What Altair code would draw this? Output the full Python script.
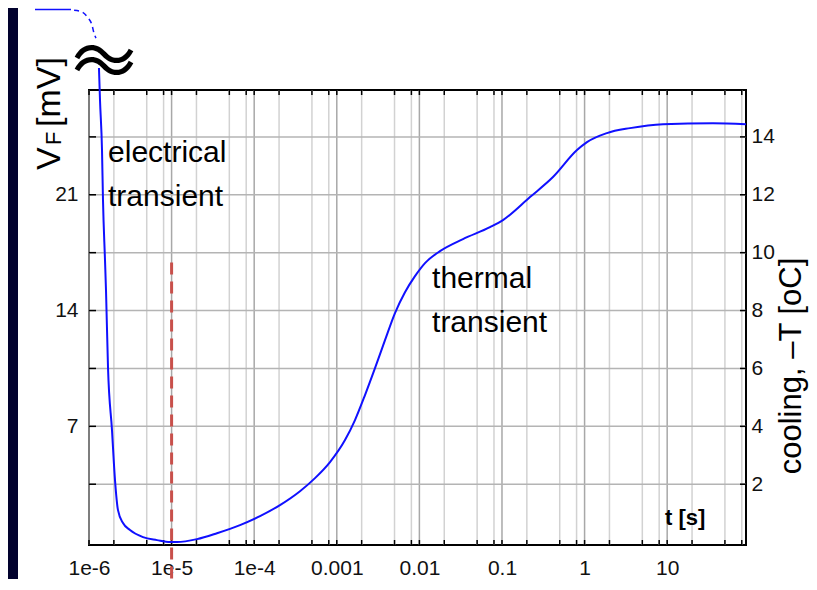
import math
import altair as alt
import pandas as pd

W, H = 657, 455
FONT = "Liberation Sans"

# ---- measured transient curve: time [s] and forward voltage [mV]
t_s = [1.32e-6, 1.359e-6, 1.437e-6, 1.477e-6, 1.562e-6, 1.606e-6, 1.698e-6, 1.898e-6,
       2.064e-6, 2.244e-6, 2.58e-6, 3.136e-6, 4.506e-6, 6.657e-6, 9.563e-6, 1.163e-5,
       2.03e-5, 3.545e-5, 6.732e-5, 1.176e-4, 2.053e-4, 3.585e-4, 5.447e-4, 8.275e-4,
       1.257e-3, 1.661e-3, 2.195e-3, 2.901e-3, 3.834e-3, 5.064e-3, 6.693e-3, 8.845e-3,
       1.169e-2, 1.776e-2, 3.372e-2, 7.157e-2, 0.1028, 0.2183, 0.4143, 0.8091, 1.069,
       1.867, 3.545, 8.895, 35.84, 89.96]
vf_mv = [28.66, 26.72, 23.70, 20.68, 17.05, 15.24, 10.58, 6.77,
         3.75, 1.93, 1.15, 0.73, 0.30, 0.12, 0.00, 0.00,
         0.18, 0.54, 1.03, 1.57, 2.24, 3.08, 3.87, 4.84,
         6.17, 7.38, 8.89, 10.52, 12.21, 13.85, 15.11, 16.08,
         16.87, 17.59, 18.32, 19.04, 19.47, 20.86, 22.07, 23.70, 24.18,
         24.73, 25.03, 25.27, 25.33, 25.27]

# lead-in of the curve above the (broken) axis
t_lead_solid = [2.22e-7, 6.05e-7]
vf_lead_solid = [32.2, 32.2]
t_lead_dash = [6.6e-7, 8.23e-7, 9.72e-7, 1.087e-6, 1.149e-6, 1.215e-6]
vf_lead_dash = [32.15, 32.05, 31.7, 31.26, 30.77, 30.47]

# axes
x_domain = [1e-6, 90]
y_domain = [-0.175, 27.335]          # VF [mV]
y2_domain = [-0.1, 15.62]            # cooling -T [oC]
x_major = [1e-6, 1e-5, 1e-4, 1e-3, 1e-2, 1e-1, 1, 10]
x_labels = ["1e-6", "1e-5", "1e-4", "0.001", "0.01", "0.1", "1", "10"]
x_minor = [2e-6, 5e-6, 8e-6, 2e-5, 5e-5, 8e-5, 2e-4, 5e-4, 8e-4, 2e-3, 5e-3, 8e-3,
           2e-2, 5e-2, 8e-2, 0.2, 0.5, 0.8, 2, 5, 8, 20, 50, 80]
y_grid = [3.5, 7, 10.5, 14, 17.5, 21, 24.5]
y_labels = [7, 14, 21]
y2_labels = [2, 4, 6, 8, 10, 12, 14]

# annotations
ann_text = ["electrical", "transient", "thermal", "transient"]
ann_t = [1.7e-6, 1.7e-6, 0.01423, 0.01423]
ann_v = [22.97, 20.3, 15.36, 12.70]
marker_t = [1e-5]
marker_v = [16.9]

xs = alt.Scale(type="log", domain=x_domain, nice=False)
ys = alt.Scale(domain=y_domain, nice=False, zero=False)

label_expr = " : ".join(
    f"abs(log(datum.value)/LN10 - ({math.log10(v):.4f})) < 0.01 ? '{s}'"
    for v, s in zip(x_major, x_labels)) + " : ''"

LBL = 21
X_AX = alt.Axis(values=x_major, labelExpr=label_expr, labelFontSize=LBL,
                labelFont=FONT, labelColor="#111", tickSize=0, domain=False,
                grid=False, labelPadding=12, labelFlush=False, labelOverlap=False,
                title=None)
Y_AX = alt.Axis(values=y_labels, labelFontSize=LBL, labelFont=FONT,
                labelColor="#111", tickSize=0, domain=False, grid=False,
                labelPadding=11, title=None)


def X(f="t"):
    return alt.X(f"{f}:Q", scale=xs, axis=X_AX)


def Y(f="v"):
    return alt.Y(f"{f}:Q", scale=ys, axis=Y_AX)


one = pd.DataFrame({"a": [0]})

band = alt.Chart(one).mark_rect(color="#02022e").encode(
    x=alt.value(-81), x2=alt.value(-71), y=alt.value(-82), y2=alt.value(H + 40))

vminor = alt.Chart(pd.DataFrame({"t": x_minor})).mark_rule(
    color="#d2d2d2", strokeWidth=1.5).encode(x=X())
vmajor = alt.Chart(pd.DataFrame({"t": x_major})).mark_rule(
    color="#a8a8a8", strokeWidth=1.5).encode(x=X())
hgrid = alt.Chart(pd.DataFrame({"v": y_grid})).mark_rule(
    color="#b4b4b4", strokeWidth=1.5).encode(y=Y())

all_x = pd.DataFrame({"t": x_major + x_minor})
tick_top = alt.Chart(all_x).mark_rule(color="black", strokeWidth=1.5).encode(
    x=X(), y=alt.value(0), y2=alt.value(5))
tick_bot = alt.Chart(all_x).mark_rule(color="black", strokeWidth=1.5).encode(
    x=X(), y=alt.value(H - 5), y2=alt.value(H))
yg = pd.DataFrame({"v": y_grid})
tick_left = alt.Chart(yg).mark_rule(color="black", strokeWidth=1.5).encode(
    y=Y(), x=alt.value(0), x2=alt.value(7))
tick_right = alt.Chart(yg).mark_rule(color="black", strokeWidth=1.5).encode(
    y=Y(), x=alt.value(W - 6), x2=alt.value(W))

curve = alt.Chart(pd.DataFrame({"t": t_s, "v": vf_mv})).mark_line(
    color="#1010ff", strokeWidth=2, interpolate="monotone").encode(x=X(), y=Y())

lead_solid = alt.Chart(pd.DataFrame({"t": t_lead_solid, "v": vf_lead_solid})).mark_line(
    color="#1010ff", strokeWidth=1.5).encode(x=X(), y=Y())
lead_dash = alt.Chart(pd.DataFrame({"t": t_lead_dash, "v": vf_lead_dash})).mark_line(
    color="#1010ff", strokeWidth=1.5, strokeDash=[5, 4], interpolate="monotone").encode(
    x=X(), y=Y())

marker = alt.Chart(pd.DataFrame({"t": marker_t, "v": marker_v})).mark_rule(
    color="#c8504b", strokeWidth=3, strokeDash=[12, 7]).encode(
    x=X(), y=Y(), y2=alt.value(H + 50))

ann = alt.Chart(pd.DataFrame({"txt": ann_text, "t": ann_t, "v": ann_v})).mark_text(
    align="left", baseline="alphabetic", font=FONT, fontSize=30, color="black").encode(
    x=X(), y=Y(), text="txt:N")

tlabel = alt.Chart(pd.DataFrame({"txt": ["t [s]"], "t": [9.4], "v": [1.03]})).mark_text(
    align="left", baseline="alphabetic", font=FONT, fontSize=22, fontWeight="bold",
    color="black").encode(x=X(), y=Y(), text="txt:N")

brk = alt.Chart(one).mark_text(text="\u301c\n\u301c", lineBreak="\n", lineHeight=12,
                               font="Noto Sans CJK JP", fontSize=64, fontWeight=400,
                               align="center", baseline="middle",
                               color="black").encode(
    x=alt.value(15), y=alt.value(-31))

vt_v = alt.Chart(one).mark_text(text="V", font=FONT, fontSize=34, angle=270,
                                align="left", baseline="alphabetic", color="black").encode(
    x=alt.value(-29), y=alt.value(80))
vt_f = alt.Chart(one).mark_text(text="F", font=FONT, fontSize=22, angle=270,
                                align="left", baseline="alphabetic", color="black").encode(
    x=alt.value(-28), y=alt.value(55))
vt_u = alt.Chart(one).mark_text(text="[mV]", font=FONT, fontSize=34, angle=270,
                                align="left", baseline="alphabetic", color="black").encode(
    x=alt.value(-29), y=alt.value(37))
rt = alt.Chart(one).mark_text(text="cooling, \u2013T [oC]", font=FONT, fontSize=31,
                              angle=270, align="center", baseline="alphabetic",
                              color="black").encode(
    x=alt.value(W + 55), y=alt.value(276))

left = alt.layer(band, vminor, vmajor, hgrid, tick_top, tick_bot, tick_left, tick_right,
                 marker, curve, lead_solid, lead_dash, ann, tlabel, brk,
                 vt_v, vt_f, vt_u, rt)

right = alt.Chart(pd.DataFrame({"v": y2_labels})).mark_point(opacity=0).encode(
    y=alt.Y("v:Q", scale=alt.Scale(domain=y2_domain, nice=False, zero=False), title=None,
            axis=alt.Axis(orient="right", values=y2_labels, labelFontSize=LBL,
                          labelFont=FONT, labelColor="#111", tickSize=0, domain=False,
                          grid=False, labelPadding=5)))

chart = alt.layer(left, right).resolve_scale(y="independent").properties(
    width=W, height=H,
    autosize=alt.AutoSizeParams(type="none"),
    padding={"left": 81, "top": 82, "right": 63, "bottom": 34},
    background="white",
).configure_view(stroke="black", strokeWidth=2)

chart.save("out.html", embed_options={"renderer": "svg", "actions": False})
